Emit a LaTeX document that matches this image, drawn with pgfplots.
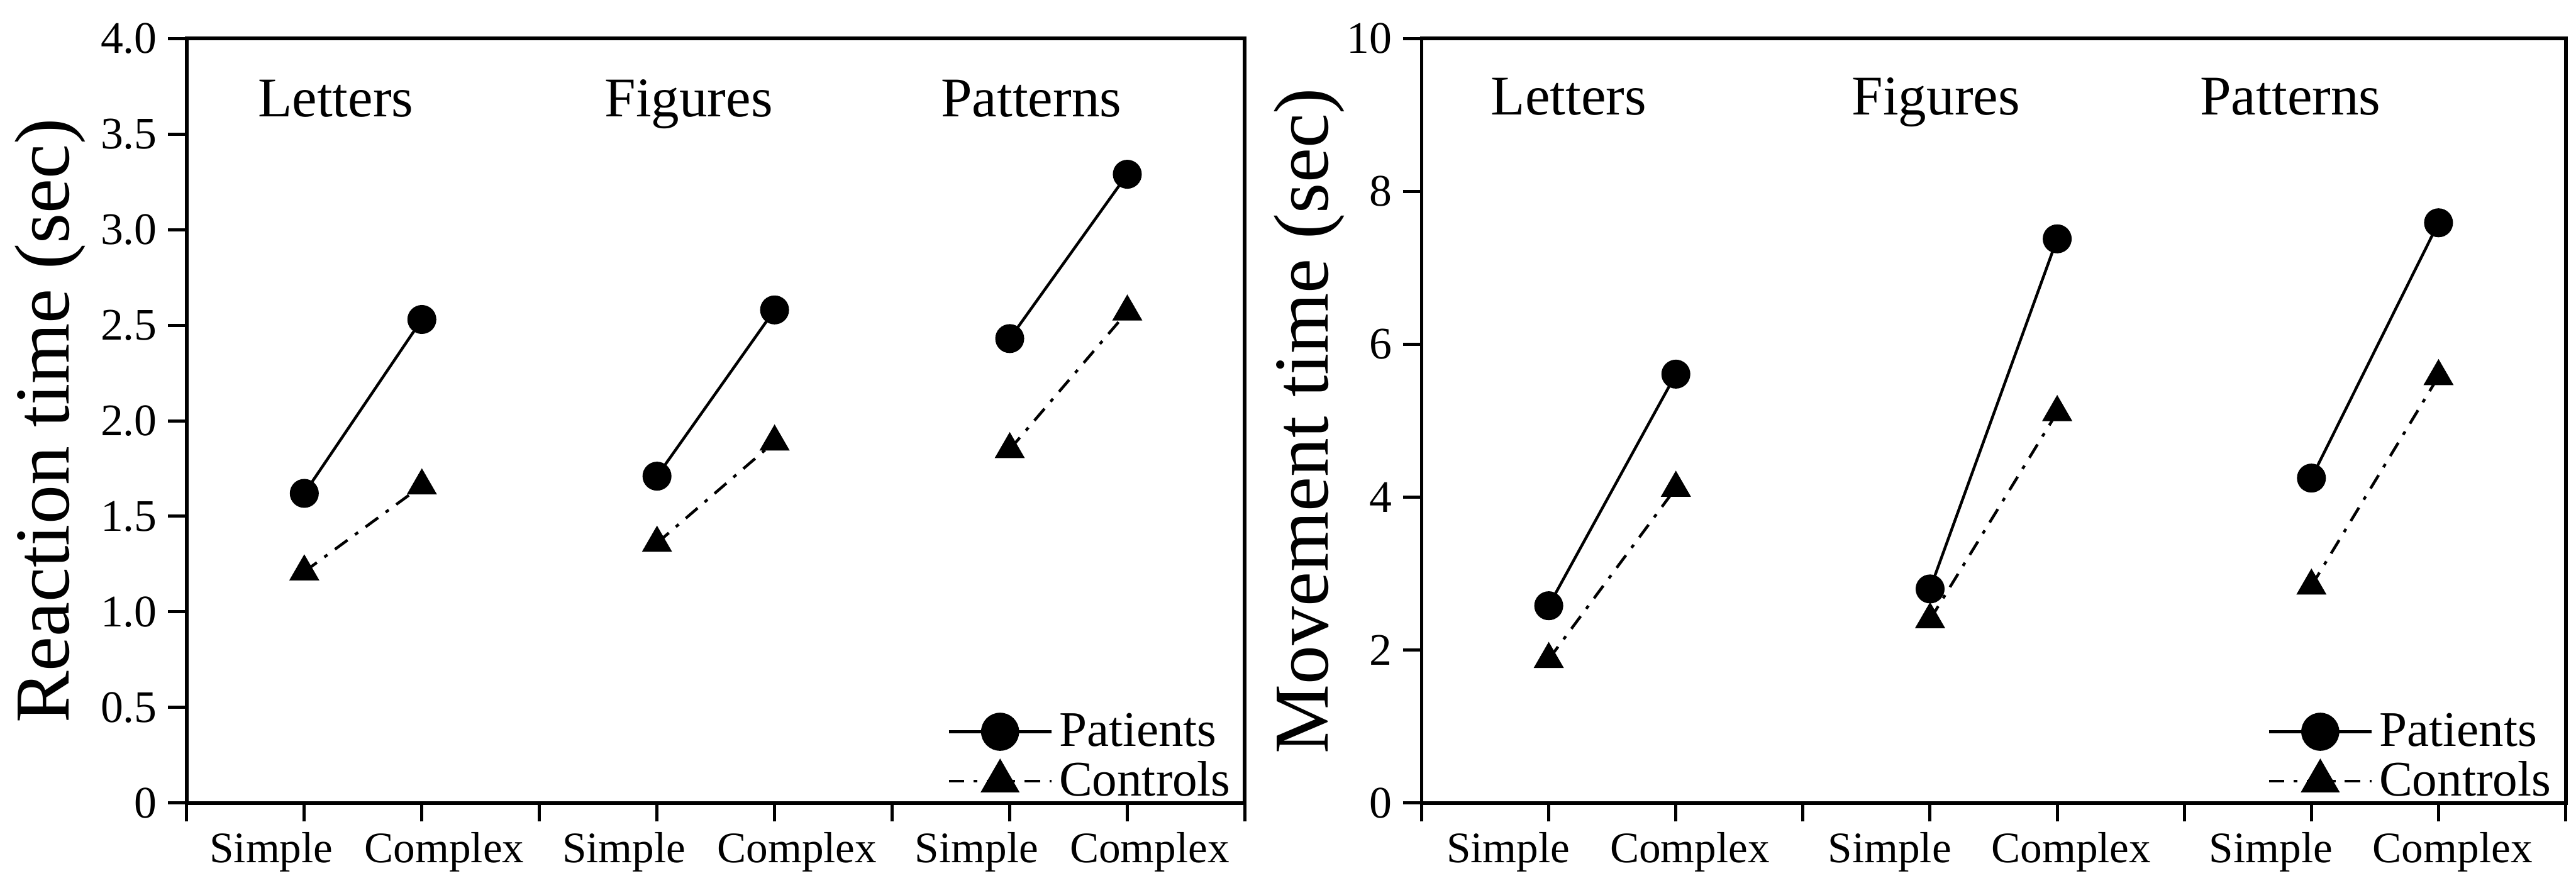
\documentclass[border=0pt]{standalone}
\usepackage{fontspec}
\setmainfont{Liberation Serif}
\usepackage{pgfplots}
\pgfplotsset{compat=1.18}
\tikzset{grp/.style={anchor=base west, inner sep=0pt, font=\fontsize{18}{18}\selectfont}}
\newcommand\sh[2]{\makebox[0pt]{\hspace*{#1}#2}}
\begin{document}
\begin{tikzpicture}
\pgfplotsset{
  common/.style={
    scale only axis,
    axis line style={line width=1.2pt},
    tick style={line width=1pt, black},
    tick align=outside,
    major tick length=6pt,
    xtick pos=left, ytick pos=left,
    xmin=0, xmax=9,
    xtick={0,1,2,3,4,5,6,7,8,9},
    xticklabel style={font=\fontsize{14}{14}\selectfont},
    yticklabel style={font=\fontsize{14.5}{14.5}\selectfont},
    /pgf/number format/assume math mode=true,
    clip=false,
    unbounded coords=jump,
    legend style={draw=none, fill=none, font=\fontsize{16}{16}\selectfont,
      at={(rel axis cs:0.993,-0.006)}, anchor=south east, row sep=-0.5pt, inner sep=0pt},
    legend cell align=left,
    legend image code/.code={\draw[mark repeat=2,mark phase=2,every mark/.append style={scale=1.35}] plot coordinates {(0pt,0pt)(16.5pt,0pt)(33pt,0pt)};},
    ylabel style={anchor=center, font=\fontsize{25}{25}\selectfont},
  },
  pat/.style={black, line width=0.9pt, mark=*, mark size=4.2pt, mark options={solid}},
  con/.style={black, line width=0.9pt, dash pattern=on 5pt off 3pt on 1.2pt off 3pt, mark=triangle*, mark size=4.7pt, mark options={solid}},
}
\path (0pt,-25pt) rectangle (825pt,258pt);
\begin{axis}[common, at={(60pt,0pt)}, anchor=south west, width=340pt, height=245.6pt,
  xticklabels={,\sh{-21.2pt}{Simple},\sh{14.4pt}{Complex},,\sh{-21.2pt}{Simple},\sh{14.4pt}{Complex},,\sh{-21.2pt}{Simple},\sh{14.4pt}{Complex},},
  ymin=0, ymax=4, ytick={0,0.5,1,1.5,2,2.5,3,3.5,4},
  yticklabels={0,0.5,1.0,1.5,2.0,2.5,3.0,3.5,4.0},
  ylabel={Reaction time (sec)},
  ylabel style={at={(axis description cs:-0.129,0.5)}}]
\addplot[pat] coordinates {(1,1.62)(2,2.53)(3,nan)(4,1.71)(5,2.58)(6,nan)(7,2.43)(8,3.29)};
\addlegendentry{Patients}
\addplot[con] coordinates {(1,1.21)(2,1.66)(3,nan)(4,1.36)(5,1.89)(6,nan)(7,1.85)(8,2.57)};
\addlegendentry{Controls}
\node[grp] at (axis cs:0.6,3.59) {Letters};
\node[grp] at (axis cs:3.55,3.59) {Figures};
\node[grp] at (axis cs:6.41,3.59) {Patterns};
\end{axis}
\begin{axis}[common, at={(456.8pt,0pt)}, anchor=south west, width=367.6pt, height=245.6pt,
  xticklabels={,\sh{-26pt}{Simple},\sh{9pt}{Complex},,\sh{-26pt}{Simple},\sh{9pt}{Complex},,\sh{-26pt}{Simple},\sh{9pt}{Complex},},
  ymin=0, ymax=10, ytick={0,2,4,6,8,10},
  yticklabels={0,2,4,6,8,10},
  ylabel={Movement time (sec)},
  ylabel style={at={(axis description cs:-0.098,0.5)}}]
\addplot[pat] coordinates {(1,2.58)(2,5.61)(3,nan)(4,2.80)(5,7.38)(6,nan)(7,4.25)(8,7.59)};
\addlegendentry{Patients}
\addplot[con] coordinates {(1,1.88)(2,4.12)(3,nan)(4,2.40)(5,5.11)(6,nan)(7,2.84)(8,5.58)};
\addlegendentry{Controls}
\node[grp] at (axis cs:0.54,9.0) {Letters};
\node[grp] at (axis cs:3.38,9.0) {Figures};
\node[grp] at (axis cs:6.12,9.0) {Patterns};
\end{axis}
\end{tikzpicture}
\end{document}
